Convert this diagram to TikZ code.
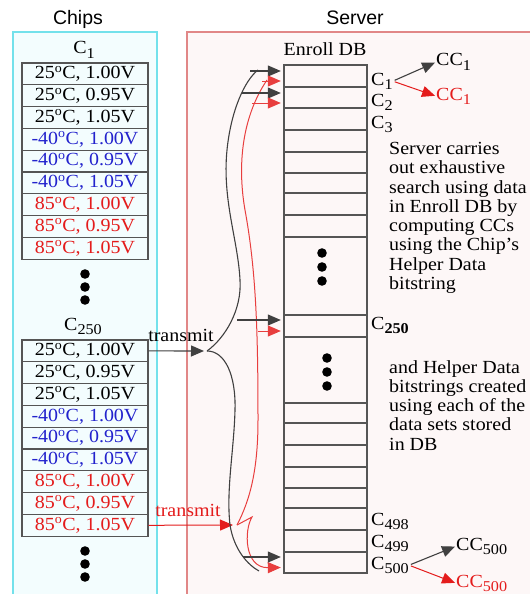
\documentclass[tikz,border=0pt]{standalone}
\usepackage{fontspec}
\setmainfont{Liberation Serif}[FakeStretch=1.08]
\newfontfamily\titlefont{Liberation Sans}
\usetikzlibrary{arrows.meta,calc}

\definecolor{chipblue}{RGB}{35,35,205}
\definecolor{chipred}{RGB}{228,28,28}
\definecolor{rowline}{RGB}{85,85,85}
\definecolor{chipsedge}{RGB}{115,225,235}
\definecolor{chipsfill}{RGB}{243,253,254}
\definecolor{serveredge}{RGB}{225,135,135}
\definecolor{serverfill}{RGB}{253,247,247}

\newcommand{\lowidx}[1]{\raisebox{-4.5pt}{\fontsize{15}{15}\selectfont #1}}

% one chip: nine rows of temperature / voltage
\newcommand{\chiptable}[2]{%
  \foreach \tmpr/\volt/\ink [count=\i] in {25/1.00/black,25/0.95/black,25/1.05/black,%
      -40/1.00/chipblue,-40/0.95/chipblue,-40/1.05/chipblue,%
      85/1.00/chipred,85/0.95/chipred,85/1.05/chipred}
    \node[chiprow, text=\ink] (#1-\i) at (85,{#2+(\i-0.5)*21.8}) {\tmpr\textsuperscript{o}C, \volt V};
}

\tikzset{
  chiprow/.style={draw=rowline, line width=1.1pt, minimum width=126pt, minimum height=21.8pt, inner sep=0pt},
  dbrow/.style={minimum width=83pt, minimum height=22pt, inner sep=0pt},
  bwire/.style={draw=black!75, line width=1.1pt},
  rwire/.style={draw=chipred!85, line width=1pt},
  tip/.style={-{Triangle[length=13pt,width=11pt]}},
  title/.style={font=\titlefont\fontsize{19.5}{20}\selectfont, anchor=base},
  note/.style={anchor=north west, align=left, font=\fontsize{18.5}{19.3}\selectfont},
}

\begin{document}
\begin{tikzpicture}[x=1pt, y=-1pt, font=\fontsize{18.5}{19.3}\selectfont, every node/.style={inner sep=0pt}]
\useasboundingbox (0,0) rectangle (530,594);

% boxes
\fill[chipsfill] (13,32) rectangle (157,594);
\draw[chipsedge, line width=1.3pt] (13,594) -- (13,32) -- (157,32) -- (157,594);
\fill[serverfill] (187,32) rectangle (530,594);
\draw[serveredge, line width=1.3pt] (187,594) -- (187,32) -- (530,32);

\node[title] (chipsT) at (78,25) {Chips};
\node[title] (serverT) at (355,25) {Server};

% chips
\node[anchor=base] (c1L) at (84,54) {C\lowidx{1}};
\chiptable{c1}{63}
\foreach \y in {274,287,300} \fill (85,\y) circle (4.8pt);

\node[anchor=base] (c250L) at (83,330) {C\lowidx{250}};
\chiptable{c250}{340}
\foreach \y in {551,564,577} \fill (85,\y) circle (4.8pt);

% enroll DB
\node (dbT) at (325,49) {Enroll DB};
\draw[rowline, line width=1.1pt] (284,65) rectangle (367,573);
\foreach \y in {87,108,130,152,173,193,215,237,315,337,403,423,445,467,488,508,530,552}
  \draw[rowline, line width=1.1pt] (284,\y) -- (367,\y);
\foreach \y in {253,267,281} \fill (322,\y) circle (4.8pt);
\foreach \y in {358,372,386} \fill (327,\y) circle (4.8pt);

\node[dbrow] (db1) at (325.5,76) {};
\node[dbrow] (db2) at (325.5,97.5) {};
\node[dbrow] (db250) at (325.5,326) {};
\node[dbrow] (db500) at (325.5,562.5) {};

\coordinate (btx) at (204,351);
\coordinate (bsplit) at (207,351);
\coordinate (btop) at (258,70);
\coordinate (bbot) at (259,571);
\coordinate (rtx) at (233,525);
\coordinate (rsplit) at (237,525);
\coordinate (rtop) at (267,80);
\coordinate (s1b) at (250,71);
\coordinate (s1r) at (262,81);
\coordinate (s2b) at (242,93);
\coordinate (s2r) at (252,103);
\coordinate (s250b) at (237,320);
\coordinate (s250r) at (258,331);
\coordinate (s500b) at (243,557);

% transmit
\node (txb) at (181,335) {transmit};
\node[text=chipred] (txr) at (188,510) {transmit};
\draw[bwire, tip] (c250-1.east) -- (btx);
\draw[rwire, draw=chipred, tip] (c250-9.east) -- (rtx);

\draw[bwire] (bsplit) .. controls (225,338) and (242,310) .. (240,280)
  .. controls (238,240) and (222,200) .. (227,150) .. controls (231,110) and (245,80) .. (btop);
\draw[bwire] (bsplit) .. controls (225,351) and (236,375) .. (235,410)
  .. controls (234,450) and (226,490) .. (230,525) .. controls (234,550) and (248,565) .. (bbot);
\draw[rwire] (rsplit) .. controls (250,500) and (258,470) .. (258,420)
  .. controls (258,330) and (256,270) .. (245,210) .. controls (238,170) and (240,120) .. (rtop);
\draw[rwire, tip] (rsplit) .. controls (244,521) .. (252,517)
  .. controls (244,530) and (244,568) .. ($(db500.west)+(-3,5)$);

\draw[bwire, tip, shorten >=3pt] (s1b) -- (s1b -| db1.west);
\draw[rwire, tip, shorten >=3pt] (s1r) -- (s1r -| db1.west);
\draw[bwire, tip, shorten >=3pt] (s2b) -- (s2b -| db2.west);
\draw[rwire, tip, shorten >=3pt] (s2r) -- (s2r -| db2.west);
\draw[bwire, tip, shorten >=3pt] (s250b) -- (s250b -| db250.west);
\draw[rwire, tip, shorten >=3pt] (s250r) -- (s250r -| db250.west);
\draw[bwire, tip, shorten >=3pt] (s500b) -- (s500b -| db500.west);

% server side labels
\node[anchor=base west] (c1R) at (371,85) {C\lowidx{1}};
\node[anchor=base west] (c2R) at (371,106) {C\lowidx{2}};
\node[anchor=base west] (c3R) at (371,128) {C\lowidx{3}};
\node[anchor=base west] (c250R) at (371,329) {C\lowidx{\bfseries 250}};
\node[anchor=base west] (c498R) at (371,525) {C\lowidx{498}};
\node[anchor=base west] (c499R) at (371,547) {C\lowidx{499}};
\node[anchor=base west] (c500R) at (371,569) {C\lowidx{500}};

\node[anchor=base west] (cc1b) at (436,66) {CC\lowidx{1}};
\node[anchor=base west, text=chipred] (cc1r) at (436,100) {CC\lowidx{1}};
\node[anchor=base west] (cc500b) at (456,550) {CC\lowidx{500}};
\node[anchor=base west, text=chipred] (cc500r) at (456,587) {CC\lowidx{500}};

\draw[bwire, tip, shorten <=2pt, shorten >=1pt] (c1R.east) -- (cc1b.west);
\draw[rwire, draw=chipred, tip, shorten <=2pt, shorten >=1pt] (c1R.east) -- (cc1r.west);
\draw[bwire, tip, shorten <=2pt, shorten >=1pt] (c500R.east) -- (cc500b.west);
\draw[rwire, draw=chipred, tip, shorten <=2pt, shorten >=1pt] (c500R.east) -- (cc500r.west);

\node[note] (note1) at (389,142) {Server carries\\out exhaustive\\search using data\\in Enroll DB by\\computing CCs\\using the Chip's\\Helper Data\\bitstring};
\node[note] (note2) at (389,360) {and Helper Data\\bitstrings created\\using each of the\\data sets stored\\in DB};
\end{tikzpicture}
\end{document}
